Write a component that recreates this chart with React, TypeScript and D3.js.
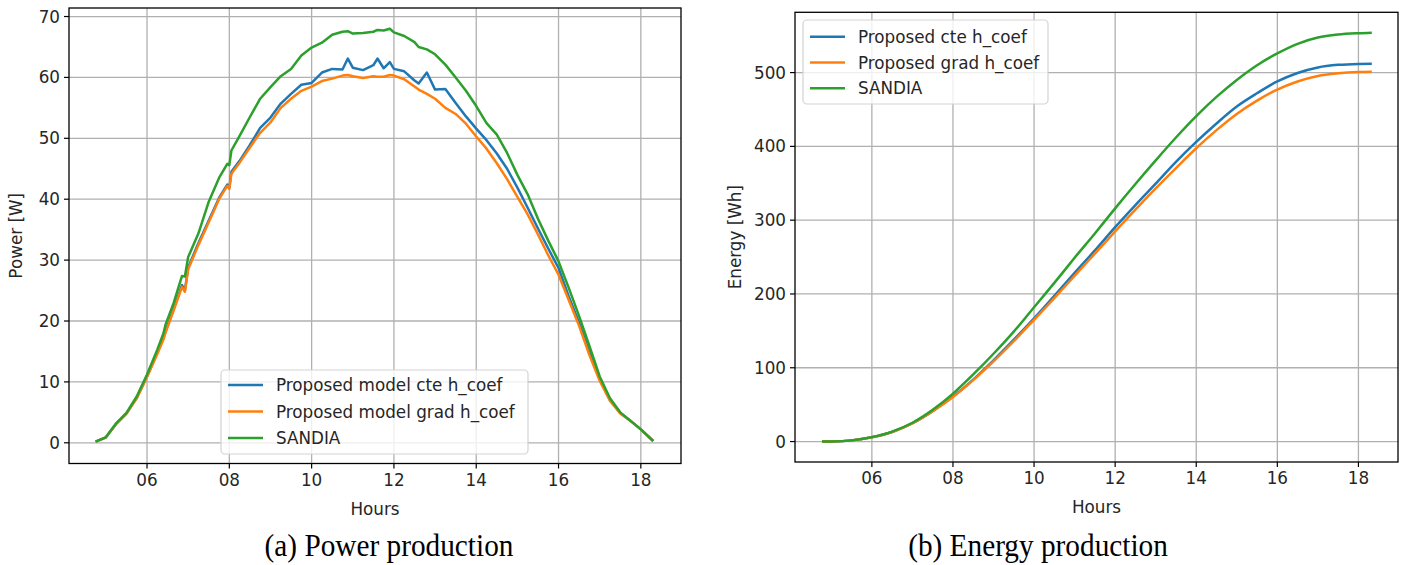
import React from 'react';
import * as d3 from 'd3';

// hours of the day (power samples)
const powerHours = [
  4.75, 5.0, 5.25, 5.5, 5.75, 6.0, 6.25, 6.4, 6.45, 6.65, 6.85, 6.92, 7.0, 7.25, 7.5, 7.75,
  7.95, 8.0, 8.05, 8.25, 8.5, 8.75, 9.0, 9.25, 9.5, 9.75, 10.0, 10.25, 10.5, 10.75, 10.88,
  11.0, 11.25, 11.5, 11.6, 11.75, 11.9, 12.0, 12.25, 12.5, 12.6, 12.8, 13.0, 13.25, 13.5,
  13.75, 14.0, 14.25, 14.5, 14.75, 15.0, 15.25, 15.5, 15.75, 16.0, 16.25, 16.5, 16.75,
  17.0, 17.25, 17.5, 17.75, 18.0, 18.3,
];
const powerCte = [
  0.2, 0.9, 3.1, 4.8, 7.4, 10.9, 14.8, 17.2, 18.3, 22.0, 25.9, 25.0, 28.8, 32.8, 36.5, 40.2,
  42.4, 41.9, 44.5, 46.3, 48.9, 51.7, 53.4, 55.7, 57.3, 58.8, 59.1, 60.8, 61.4, 61.3, 63.1,
  61.6, 61.2, 62.0, 63.1, 61.5, 62.5, 61.4, 61.0, 59.5, 59.0, 60.8, 58.0, 58.1, 55.8,
  53.6, 51.6, 49.7, 47.5, 45.0, 41.9, 38.6, 35.2, 31.9, 28.7, 24.0, 19.7, 14.9,
  10.5, 7.0, 4.9, 3.6, 2.2, 0.3,
];
const powerGrad = [
  0.2, 0.9, 3.1, 4.8, 7.3, 10.8, 14.6, 17.0, 18.1, 21.8, 25.6, 24.8, 28.5, 32.5, 36.2, 40.0,
  42.2, 41.7, 44.2, 46.0, 48.5, 50.9, 52.6, 55.0, 56.5, 57.8, 58.5, 59.4, 59.8, 60.3, 60.4,
  60.2, 59.9, 60.2, 60.1, 60.1, 60.4, 60.3, 59.7, 58.5, 58.0, 57.3, 56.5, 55.0, 54.0,
  52.4, 50.3, 48.3, 45.9, 43.3, 40.4, 37.5, 34.2, 30.8, 27.6, 23.4, 19.2, 14.4,
  10.2, 6.9, 4.8, 3.6, 2.2, 0.3,
];
const powerSandia = [
  0.2, 0.9, 3.2, 4.9, 7.6, 11.2, 15.3, 18.0, 19.4, 23.0, 27.4, 27.3, 30.5, 34.4, 39.6, 43.5,
  45.8, 45.6, 48.0, 50.4, 53.5, 56.5, 58.4, 60.2, 61.4, 63.6, 64.9, 65.7, 67.0, 67.5, 67.6,
  67.2, 67.3, 67.5, 67.8, 67.7, 68.0, 67.4, 66.8, 65.8, 65.0, 64.6, 63.8, 62.1, 60.0,
  57.8, 55.3, 52.5, 50.6, 47.6, 44.0, 40.8, 36.8, 33.2, 29.8, 25.4, 20.8, 15.9,
  10.9, 7.3, 5.0, 3.6, 2.2, 0.3,
];

// hours of the day (energy samples)
const energyHours = [
  4.77, 5.0, 5.5, 6.0, 6.5, 7.0, 7.5, 8.0, 8.5, 9.0, 9.5, 10.0, 10.5, 11.0, 11.5, 12.0,
  12.5, 13.0, 13.5, 14.0, 14.5, 15.0, 15.5, 16.0, 16.5, 17.0, 17.5, 18.0, 18.33,
];
const energyCte = [
  0, 0.1, 1.6, 5.9, 13, 24.8, 41.3, 61, 84, 110, 138, 167, 197.5, 228.5, 259, 290.5,
  320.5, 349.5, 379, 406, 431, 454, 472, 488, 499.5, 507, 510.5, 511.8, 512,
];
const energyGrad = [
  0, 0.1, 1.6, 5.8, 12.9, 24.5, 41, 60.5, 83.3, 108.7, 136, 165, 194.5, 224.6, 254.6, 284.7,
  314.3, 343, 370.6, 397.5, 422, 444, 462, 477, 488, 495.5, 499, 500.8, 501.2,
];
const energySandia = [
  0, 0.1, 1.6, 6, 13.5, 25.5, 43, 65, 91, 119, 149, 182, 215, 249, 282, 316,
  349, 381, 412, 441, 467, 490, 510, 526, 539, 547.5, 551.5, 553.3, 554,
];

const hourTicks = [6, 8, 10, 12, 14, 16, 18];
const powerTicks = [0, 10, 20, 30, 40, 50, 60, 70];
const energyTicks = [0, 100, 200, 300, 400, 500];
const powerLabels = ['Proposed model cte h_coef', 'Proposed model grad h_coef', 'SANDIA'];
const energyLabels = ['Proposed cte h_coef', 'Proposed grad h_coef', 'SANDIA'];
const colors = ['#1f77b4', '#ff7f0e', '#2ca02c'];

const sans = 'DejaVu Sans, sans-serif';
const serif = 'Liberation Serif, Times New Roman, serif';
const hourFmt = d3.format('02d');

type Frame = { left: number; right: number; top: number; bottom: number };
type Legend = { x: number; y: number; w: number; h: number; row0: number; rowStep: number };

const Panel = ({
  frame, yDomain, xs, series, yTicks, yLabel, yLabelX, labels, legend, caption, captionX, fs, curve,
}: {
  frame: Frame; yDomain: [number, number]; xs: number[]; series: number[][]; yTicks: number[];
  yLabel: string; yLabelX: number; labels: string[]; legend: Legend; caption: string;
  captionX: number; fs: number; curve: d3.CurveFactory;
}) => {
  const x = d3.scaleLinear().domain([4.104, 18.976]).range([frame.left, frame.right]);
  const y = d3.scaleLinear().domain(yDomain).range([frame.bottom, frame.top]);
  const line = d3.line<number>().x((_, i) => x(xs[i])).y((d) => y(d)).curve(curve);
  const cx = (frame.left + frame.right) / 2;
  const cy = (frame.top + frame.bottom) / 2;
  return (
    <g fontFamily={sans} fill="#262626">
      {/* grid */}
      {hourTicks.map((t) => (
        <line key={'gx' + t} x1={x(t)} x2={x(t)} y1={frame.top} y2={frame.bottom} stroke="#b0b0b0" strokeWidth={1.3} />
      ))}
      {yTicks.map((t) => (
        <line key={'gy' + t} x1={frame.left} x2={frame.right} y1={y(t)} y2={y(t)} stroke="#b0b0b0" strokeWidth={1.3} />
      ))}
      {/* series */}
      {series.map((s, i) => (
        <path key={'s' + i} d={line(s) ?? ''} fill="none" stroke={colors[i]} strokeWidth={2.5} strokeLinejoin="round" />
      ))}
      {/* frame */}
      <rect x={frame.left} y={frame.top} width={frame.right - frame.left} height={frame.bottom - frame.top} fill="none" stroke="#000" strokeWidth={1.3} />
      {/* ticks */}
      {hourTicks.map((t) => (
        <g key={'tx' + t}>
          <line x1={x(t)} x2={x(t)} y1={frame.bottom} y2={frame.bottom + 5} stroke="#000" strokeWidth={1.2} />
          <text x={x(t)} y={frame.bottom + 22} textAnchor="middle" fontSize={fs} fill="#262626">{hourFmt(t)}</text>
        </g>
      ))}
      {yTicks.map((t) => (
        <g key={'ty' + t}>
          <line x1={frame.left - 5} x2={frame.left} y1={y(t)} y2={y(t)} stroke="#000" strokeWidth={1.2} />
          <text x={frame.left - 9} y={y(t)} dy="0.36em" textAnchor="end" fontSize={fs} fill="#262626">{t}</text>
        </g>
      ))}
      <text x={cx} y={frame.bottom + 51} textAnchor="middle" fontSize={fs} fill="#262626">Hours</text>
      <text transform={`translate(${yLabelX},${cy}) rotate(-90)`} textAnchor="middle" fontSize={fs} fill="#262626">{yLabel}</text>
      {/* legend */}
      <rect x={legend.x} y={legend.y} width={legend.w} height={legend.h} rx={4} fill="#fff" fillOpacity={0.8} stroke="#d3d3d3" strokeWidth={1.2} />
      {labels.map((l, i) => {
        const ry = legend.row0 + i * legend.rowStep;
        return (
          <g key={'lg' + i}>
            <line x1={legend.x + 7} x2={legend.x + 42} y1={ry} y2={ry} stroke={colors[i]} strokeWidth={2.6} />
            <text x={legend.x + 55} y={ry} dy="0.36em" fontSize={fs} fill="#262626">{l}</text>
          </g>
        );
      })}
      <text transform={`translate(${captionX},556) scale(0.93,1)`} textAnchor="middle" fontFamily={serif} fontSize={31.5} fill="#000">{caption}</text>
    </g>
  );
};

export default function App() {
  return (
    <svg width={1405} height={565} style={{ position: 'absolute', left: 0, top: 0, background: '#fff' }}>
      <rect width={1405} height={565} fill="#fff" />
      <Panel
        frame={{ left: 69, right: 681, top: 8, bottom: 463.5 }}
        yDomain={[-3.4, 71.4]}
        xs={powerHours}
        series={[powerCte, powerGrad, powerSandia]}
        yTicks={powerTicks}
        yLabel="Power [W]"
        yLabelX={22}
        labels={powerLabels}
        legend={{ x: 221, y: 370, w: 307, h: 84, row0: 385, rowStep: 26.5 }}
        caption="(a) Power production"
        captionX={389}
        fs={16.8}
        curve={d3.curveLinear}
      />
      <Panel
        frame={{ left: 795, right: 1398, top: 12.3, bottom: 462 }}
        yDomain={[-27.7, 581.7]}
        xs={energyHours}
        series={[energyCte, energyGrad, energySandia]}
        yTicks={energyTicks}
        yLabel="Energy [Wh]"
        yLabelX={741}
        labels={energyLabels}
        legend={{ x: 803, y: 20, w: 245, h: 84, row0: 36.7, rowStep: 25.8 }}
        caption="(b) Energy production"
        captionX={1038}
        fs={16.8}
        curve={d3.curveMonotoneX}
      />
    </svg>
  );
}
